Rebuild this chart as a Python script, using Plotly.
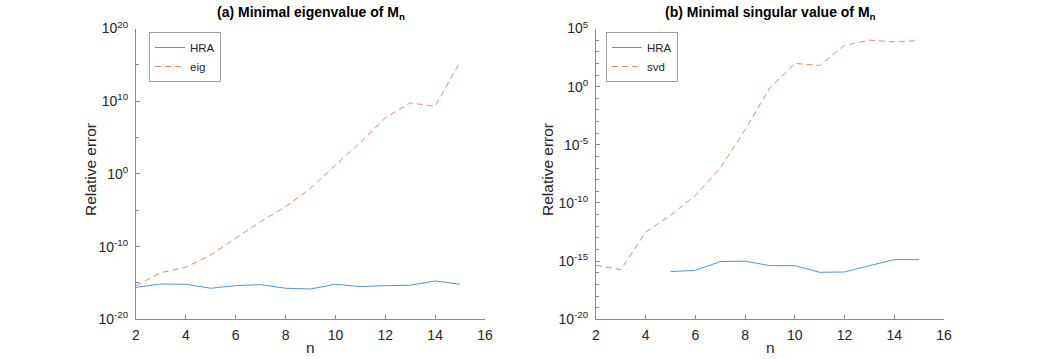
import plotly.graph_objects as go

n_vals = list(range(2, 16))

# (a) Minimal eigenvalue: log10 relative errors
hra_eig_log = [-15.6, -15.14, -15.18, -15.73, -15.37, -15.23, -15.73, -15.83,
               -15.18, -15.5, -15.37, -15.32, -14.72, -15.18]
eig_log = [-15.37, -13.58, -12.84, -11.15, -8.85, -6.56, -4.5, -2.0,
           1.2, 4.33, 7.7, 9.77, 9.3, 15.4]

# (b) Minimal singular value
hra_svd_log = [None, None, None, -15.9, -15.79, -15.04, -15.0, -15.39,
               -15.39, -15.96, -15.93, -15.39, -14.87, -14.87]
svd_log = [-15.36, -15.73, -12.5, -11.06, -9.34, -7.0, -3.7, -0.1,
           2.0, 1.82, 3.55, 4.0, 3.85, 3.96]

x_ticks = [2, 4, 6, 8, 10, 12, 14, 16]
left_y_major = [-20, -10, 0, 10, 20]
left_y_minor = [-15, -5, 5, 15]
right_y_major = [-20, -15, -10, -5, 0, 5]
right_y_minor = [e for e in range(-20, 6) if e % 5 != 0]

def to_val(arr):
    return [None if v is None else 10.0 ** v for v in arr]

def sup_label(e):
    return "10<sup>%d</sup>" % e

BLUE = "#4a9ad8"
ORANGE = "#ec8a62"
FONT = "Liberation Sans, Arial, Helvetica, sans-serif"
AXCOL = "#8a8a8a"
TXT = "#262626"
DASH = "6px,4px"

fig = go.Figure()
fig.add_trace(go.Scatter(x=n_vals, y=to_val(hra_eig_log), mode="lines", name="HRA",
                         line=dict(color=BLUE, width=1), xaxis="x", yaxis="y", legend="legend"))
fig.add_trace(go.Scatter(x=n_vals, y=to_val(eig_log), mode="lines", name="eig",
                         line=dict(color=ORANGE, width=1, dash=DASH), xaxis="x", yaxis="y", legend="legend"))
fig.add_trace(go.Scatter(x=n_vals, y=to_val(hra_svd_log), mode="lines", name="HRA",
                         line=dict(color=BLUE, width=1), xaxis="x2", yaxis="y2", legend="legend2"))
fig.add_trace(go.Scatter(x=n_vals, y=to_val(svd_log), mode="lines", name="svd",
                         line=dict(color=ORANGE, width=1, dash=DASH), xaxis="x2", yaxis="y2", legend="legend2"))

W, H = 1044, 359
ydom = [1 - 319.3 / H, 1 - 28.5 / H]
xdom1 = [136 / W, 485 / W]
xdom2 = [596 / W, 944 / W]

def xaxis(dom, anchor):
    return dict(domain=dom, anchor=anchor, range=[2, 16], tickvals=x_ticks,
                ticks="inside", ticklen=4, tickcolor=AXCOL, showline=True, linecolor=AXCOL,
                linewidth=1, showgrid=False, zeroline=False, automargin=False,
                ticklabelstandoff=3,
                tickfont=dict(size=14, color=TXT, family=FONT))

def yaxis(dom, anchor, lo, hi, major, minor):
    return dict(domain=dom, anchor=anchor, type="log", range=[lo, hi],
                tickvals=[10.0 ** e for e in major], ticktext=[sup_label(e) for e in major],
                ticks="inside", ticklen=4, tickcolor=AXCOL, showline=True, linecolor=AXCOL,
                linewidth=1, showgrid=False, zeroline=False, automargin=False,
                ticklabelstandoff=4,
                minor=dict(tickvals=[10.0 ** e for e in minor], ticks="inside", ticklen=3,
                           tickcolor=AXCOL, showgrid=False),
                tickfont=dict(size=14, color=TXT, family=FONT))

annots = []
for dom, ttl, xlab in [(xdom1, "<b>(a) Minimal eigenvalue of M<sub>n</sub></b>", 91),
                       (xdom2, "<b>(b) Minimal singular value of M<sub>n</sub></b>", 548)]:
    annots.append(dict(text=ttl, x=sum(dom) / 2, y=1 - 2 / H, xref="paper", yref="paper",
                       xanchor="center", yanchor="top", showarrow=False,
                       font=dict(size=14, color="black", family=FONT)))
    annots.append(dict(text="Relative error", x=xlab / W, y=1 - 170 / H, xref="paper", yref="paper",
                       xanchor="center", yanchor="middle", textangle=-90, showarrow=False,
                       font=dict(size=15.5, color=TXT, family=FONT)))
    annots.append(dict(text="n", x=sum(dom) / 2, y=1 - 347 / H, xref="paper", yref="paper",
                       xanchor="center", yanchor="middle", showarrow=False,
                       font=dict(size=15.5, color=TXT, family=FONT)))

legend_common = dict(xanchor="left", yanchor="top", bgcolor="white", bordercolor="#a0a0a0",
                     borderwidth=1, font=dict(size=11.5, color=TXT, family=FONT),
                     itemwidth=30, tracegroupgap=0)

fig.update_layout(
    width=W, height=H,
    margin=dict(l=0, r=0, t=0, b=0),
    paper_bgcolor="white", plot_bgcolor="white",
    font=dict(family=FONT, color=TXT),
    xaxis=xaxis(xdom1, "y"),
    yaxis=yaxis(ydom, "x", -20, 20, left_y_major, left_y_minor),
    xaxis2=xaxis(xdom2, "y2"),
    yaxis2=yaxis(ydom, "x2", -20, 5, right_y_major, right_y_minor),
    legend=dict(x=149 / W, y=1 - 32 / H, **legend_common),
    legend2=dict(x=606 / W, y=1 - 32 / H, **legend_common),
    annotations=annots,
    showlegend=True,
)

fig.write_html("out.html", config={"displayModeBar": False},
               post_script="document.body.style.margin='0';")
